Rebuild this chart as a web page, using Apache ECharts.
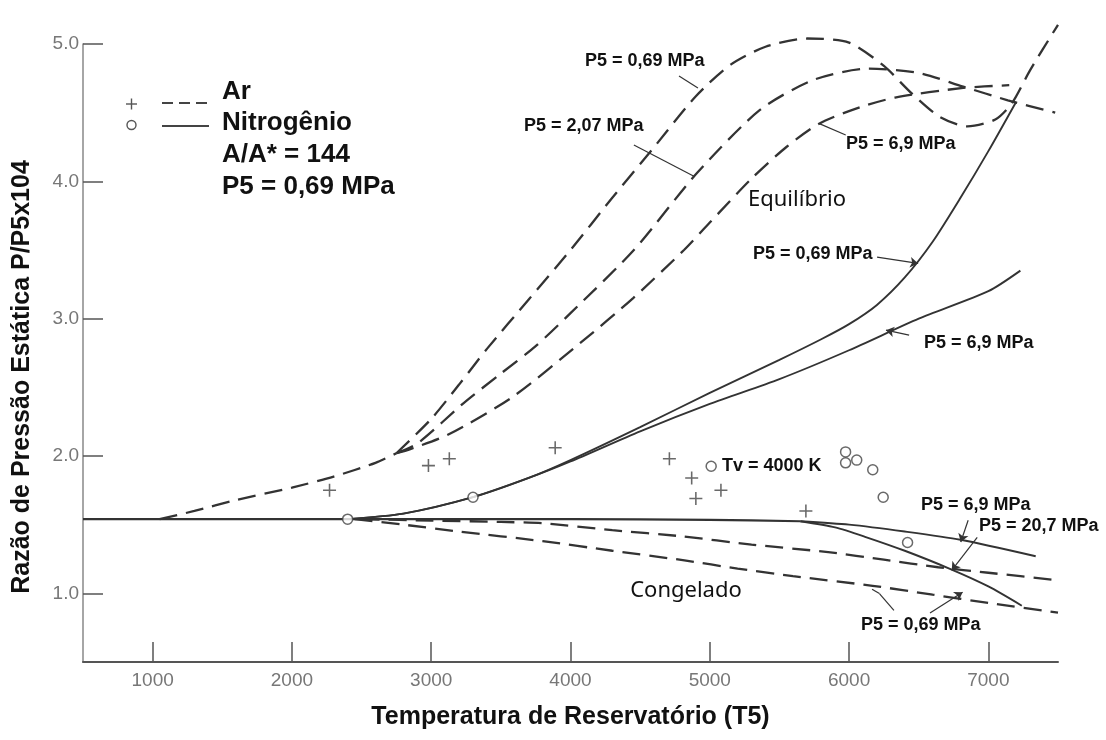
<!DOCTYPE html>
<html><head><meta charset="utf-8">
<script src="https://cdn.jsdelivr.net/npm/echarts@6/dist/echarts.min.js"></script>
<style>html,body{margin:0;padding:0;background:#fff}#c{width:1106px;height:740px}</style>
</head><body><div id="c"></div>
<script>
// ---- tick labels ----
const xTicks = [1000, 2000, 3000, 4000, 5000, 6000, 7000];
const yTicks = [1, 2, 3, 4, 5];

// ---- measured points ----
const arPoints = [[2270,1.75],[2980,1.93],[3130,1.98],[3890,2.06],[4710,1.98],[4870,1.84],[4900,1.69],[5080,1.75],[5690,1.60]];
const n2Points = [[2400,1.54],[3300,1.70],[5010,1.925],[5975,2.03],[5975,1.95],[6055,1.97],[6170,1.90],[6245,1.70],[6420,1.37]];

// ---- Nitrogen (solid) ----
const n2Base = [[500,1.54],[2400,1.54],[4000,1.54],[5000,1.535],[5650,1.525]];
const n2Eq069 = [[2400,1.54],[2800,1.58],[3300,1.70],[3700,1.84],[4000,1.97],[4500,2.21],[5000,2.46],[5500,2.70],[5800,2.85],[6000,2.96],[6200,3.10],[6400,3.30],[6600,3.56],[6800,3.88],[7000,4.22],[7200,4.58]];
const n2Eq69 = [[2400,1.54],[2800,1.58],[3300,1.70],[3700,1.84],[4000,1.96],[4500,2.18],[5000,2.38],[5500,2.56],[6000,2.77],[6500,3.00],[7000,3.20],[7230,3.35]];
const n2Fr69 = [[5650,1.525],[6000,1.50],[6400,1.45],[6800,1.39],[7340,1.27]];
const n2Fr069 = [[5650,1.525],[5900,1.48],[6120,1.41],[6400,1.31],[6720,1.18],[7000,1.05],[7240,0.91]];

// ---- Argon (dashed) ----
const arBase = [[1050,1.54],[1300,1.60],[1600,1.68],[2000,1.77],[2300,1.85],[2600,1.95],[2750,2.02]];
const arEq069 = [[2750,2.02],[3000,2.27],[3200,2.52],[3400,2.78],[3700,3.14],[4000,3.50],[4300,3.88],[4585,4.23],[4900,4.62],[5150,4.85],[5400,4.98],[5700,5.04],[6000,5.01],[6250,4.84],[6450,4.64],[6650,4.47],[6850,4.40],[7050,4.45],[7170,4.57],[7300,4.81],[7500,5.14]];
const arEq207 = [[2750,2.02],[2900,2.09],[3250,2.40],[3500,2.60],[3750,2.80],[4000,3.04],[4455,3.50],[4908,4.06],[5360,4.52],[5748,4.74],[6136,4.82],[6495,4.79],[6819,4.69],[7140,4.59],[7480,4.50]];
const arEq69 = [[2750,2.02],[2850,2.05],[3130,2.16],[3584,2.43],[4067,2.82],[4450,3.15],[4815,3.50],[5000,3.70],[5300,4.02],[5550,4.25],[5785,4.42],[6050,4.53],[6330,4.61],[6819,4.68],[7150,4.70]];
const arFr207 = [[2500,1.54],[3000,1.53],[3500,1.52],[3800,1.51],[4300,1.46],[4800,1.415],[5300,1.355],[5850,1.30],[6250,1.245],[6640,1.19],[7000,1.15],[7500,1.095]];
const arFr069 = [[2450,1.54],[2800,1.50],[3200,1.45],[3800,1.38],[4300,1.31],[4818,1.24],[5200,1.18],[5597,1.125],[6169,1.055],[6600,0.99],[7000,0.93],[7500,0.86]];

// ---- annotation leaders (data coords): [start, end, arrow?] ----
const leaders = [
  [[4779,4.767],[4915,4.68],false],
  [[4455,4.264],[4893,4.033],false],
  [[5976,4.337],[5782,4.422],false],
  [[6201,3.448],[6496,3.402],true],
  [[6431,2.880],[6265,2.916],true],
  [[6855,1.532],[6802,1.374],true],
  [[6920,1.408],[6737,1.168],true],
  [[6322,0.876],[6218,0.998],false],
  [[6218,0.998],[6165,1.03],false],
  [[6581,0.857],[6815,1.008],true]
];

const DASH = [18, 9];
const INK = '#333';
function lineSeries(data, dashed, width) {
  return {
    type: 'line', data: data, showSymbol: false, symbol: 'none', clip: false,
    smooth: 0.25, silent: true, z: 3,
    lineStyle: { color: INK, width: width || (dashed ? 2.3 : 1.9), type: dashed ? DASH : 'solid' }
  };
}

const plusPath = 'path://M4.4,0 h1.2 v4.4 h4.4 v1.2 h-4.4 v4.4 h-1.2 v-4.4 h-4.4 v-1.2 h4.4 z';

const chart = echarts.init(document.getElementById('c'), null, { renderer: 'canvas' });
const series = [
  lineSeries(n2Base, false, 2.2),
  lineSeries(n2Eq069, false),
  lineSeries(n2Eq69, false),
  lineSeries(n2Fr69, false),
  lineSeries(n2Fr069, false),
  lineSeries(arBase, true),
  lineSeries(arEq069, true),
  lineSeries(arEq207, true),
  lineSeries(arEq69, true),
  lineSeries(arFr207, true),
  lineSeries(arFr069, true),
  {
    type: 'scatter', data: arPoints, symbol: plusPath, symbolSize: 13, z: 5, silent: true,
    itemStyle: { color: '#444' }
  },
  {
    type: 'scatter', data: n2Points, symbol: 'circle', symbolSize: 10, z: 6, silent: true,
    itemStyle: { color: '#fff', borderColor: '#444', borderWidth: 1.5 }
  },
  {
    type: 'line', data: [], silent: true,
    markLine: {
      silent: true, animation: false, symbolSize: 8, label: { show: false },
      lineStyle: { color: '#333', width: 1.2, type: 'solid' },
      data: leaders.map(l => [
        { coord: l[0], symbol: 'none' },
        { coord: l[1], symbol: l[2] ? 'arrow' : 'none' }
      ])
    }
  }
];

const lab = (x, y, text, size, align, weight, family) => ({
  type: 'text', x: x, y: y, silent: true, z: 10,
  style: {
    text: text, fill: '#111', align: align || 'left', verticalAlign: 'middle',
    font: (weight || 'bold') + ' ' + (size || 18) + 'px ' + (family || '"Liberation Sans", Arial, sans-serif')
  }
});

const graphic = [
  // legend block
  { type: 'line', silent: true, shape: { x1: 126, y1: 104, x2: 137, y2: 104 }, style: { stroke: '#555', lineWidth: 1.4 } },
  { type: 'line', silent: true, shape: { x1: 131.5, y1: 98.5, x2: 131.5, y2: 109.5 }, style: { stroke: '#555', lineWidth: 1.4 } },
  { type: 'line', silent: true, shape: { x1: 162, y1: 103, x2: 209, y2: 103 }, style: { stroke: '#444', lineWidth: 2.2, lineDash: [11, 6] } },
  { type: 'circle', silent: true, shape: { cx: 131.5, cy: 125, r: 4.5 }, style: { stroke: '#555', fill: '#fff', lineWidth: 1.4 } },
  { type: 'line', silent: true, shape: { x1: 162, y1: 126, x2: 209, y2: 126 }, style: { stroke: '#444', lineWidth: 2 } },
  lab(222, 92, 'Ar', 26),
  lab(222, 123, 'Nitrogênio', 26),
  lab(222, 155, 'A/A* = 144', 26),
  lab(222, 187, 'P5 = 0,69 MPa', 26),
  // curve labels
  lab(585, 61, 'P5 = 0,69 MPa'),
  lab(524, 126, 'P5 = 2,07 MPa'),
  lab(846, 144, 'P5 = 6,9 MPa'),
  lab(797, 200, 'Equilíbrio', 22, 'center', 'normal', '"Noto Sans", sans-serif'),
  lab(753, 254, 'P5 = 0,69 MPa'),
  lab(924, 343, 'P5 = 6,9 MPa'),
  lab(722, 466, 'Tv = 4000 K'),
  lab(921, 505, 'P5 = 6,9 MPa'),
  lab(979, 526, 'P5 = 20,7 MPa'),
  lab(686, 591, 'Congelado', 22, 'center', 'normal', '"Noto Sans", sans-serif'),
  lab(861, 625, 'P5 = 0,69 MPa'),
  // y axis title
  {
    type: 'text', x: 22, y: 377, rotation: Math.PI / 2, silent: true,
    style: { text: 'Razão de Pressão Estática P/P5x104', fill: '#111', align: 'center', verticalAlign: 'middle',
      font: 'bold 25px "Liberation Sans", Arial, sans-serif' }
  }
];

chart.setOption({
  animation: false,
  backgroundColor: '#fff',
  grid: { left: 83, right: 48, top: 44, bottom: 78, containLabel: false },
  xAxis: {
    type: 'value', min: 500, max: 7500,
    name: 'Temperatura de Reservatório (T5)', nameLocation: 'middle', nameGap: 43,
    nameTextStyle: { fontSize: 25, fontWeight: 'bold', color: '#111', fontFamily: 'Liberation Sans' },
    axisLine: { show: true, lineStyle: { color: '#555', width: 2 } },
    axisTick: { show: true, inside: true, length: 20, customValues: xTicks, lineStyle: { color: '#555', width: 1.5 } },
    axisLabel: { customValues: xTicks, color: '#777', fontSize: 19, margin: 9, fontFamily: 'Liberation Sans',
      formatter: v => String(v) },
    splitLine: { show: false }
  },
  yAxis: {
    type: 'value', min: 0.5, max: 5.0,
    axisLine: { show: true, lineStyle: { color: '#888', width: 1.5 } },
    axisTick: { show: true, inside: true, length: 20, customValues: yTicks, lineStyle: { color: '#555', width: 1.5 } },
    axisLabel: { customValues: yTicks, color: '#777', fontSize: 19, margin: 4, fontFamily: 'Liberation Sans',
      formatter: v => v.toFixed(1) },
    splitLine: { show: false }
  },
  graphic: graphic,
  series: series
});
</script>
</body></html>
